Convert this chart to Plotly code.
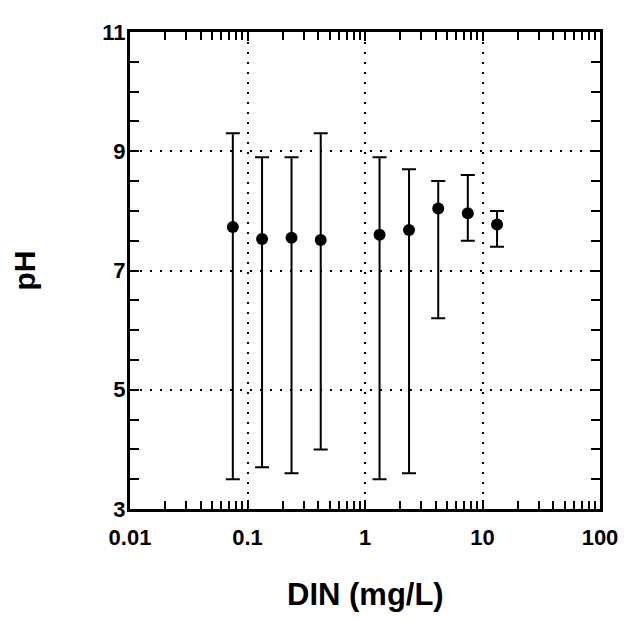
import plotly.graph_objects as go

din = [0.075, 0.133, 0.237, 0.42, 1.33, 2.37, 4.2, 7.5, 13.3]
ph_mean = [7.73, 7.53, 7.55, 7.51, 7.60, 7.68, 8.04, 7.96, 7.77]
ph_upper = [9.3, 8.9, 8.9, 9.3, 8.9, 8.7, 8.5, 8.6, 8.0]
ph_lower = [3.5, 3.7, 3.6, 4.0, 3.5, 3.6, 6.2, 7.5, 7.4]

x_ticks = [0.01, 0.1, 1, 10, 100]
x_ticktext = ["0.01", "0.1", "1", "10", "100"]
y_ticks = [3, 5, 7, 9, 11]

err_plus = [u - m for u, m in zip(ph_upper, ph_mean)]
err_minus = [m - l for m, l in zip(ph_mean, ph_lower)]

FONT = "Liberation Sans, Arial, sans-serif"

fig = go.Figure()
fig.add_trace(go.Scatter(
    x=din, y=ph_mean, mode="markers",
    marker=dict(color="black", size=12),
    error_y=dict(type="data", symmetric=False, array=err_plus, arrayminus=err_minus,
                 color="black", thickness=2, width=7),
    showlegend=False,
))

fig.update_layout(
    # page has an 8px body margin, so the figure is sized to fill the 630x621 window
    width=622, height=613,
    margin=dict(l=122, r=21, t=16, b=112),
    paper_bgcolor="white", plot_bgcolor="white",
    font=dict(family=FONT, color="black", size=22, weight="bold"),
    xaxis=dict(
        type="log", range=[-2, 2],
        tickmode="array", tickvals=x_ticks, ticktext=x_ticktext,
        ticks="inside", ticklen=9, tickwidth=2, tickcolor="black",
        showline=True, linewidth=3, linecolor="black", mirror="ticks",
        showgrid=True, gridcolor="black", gridwidth=1.5, griddash="2px,8px",
        zeroline=False,
        tickfont=dict(family=FONT, size=22, weight="bold"),
        ticklabelstandoff=7,
        minor=dict(ticks="inside", ticklen=8, tickwidth=2, tickcolor="black",
                   dtick="D1", showgrid=False),
    ),
    yaxis=dict(
        range=[3, 11],
        tickmode="array", tickvals=y_ticks,
        ticks="inside", ticklen=9, tickwidth=2, tickcolor="black",
        showline=True, linewidth=3, linecolor="black", mirror="ticks",
        showgrid=True, gridcolor="black", gridwidth=1.5, griddash="2px,8px",
        zeroline=False,
        tickfont=dict(family=FONT, size=22, weight="bold"),
        ticklabelstandoff=-3,
        minor=dict(ticks="inside", ticklen=9, tickwidth=2, tickcolor="black",
                   dtick=0.5, showgrid=False),
    ),
    annotations=[
        dict(text="pH", xref="paper", yref="paper", x=-0.2255, y=0.5,
             xanchor="center", yanchor="middle", textangle=-90, showarrow=False,
             font=dict(family=FONT, size=30, weight="bold")),
        dict(text="DIN (mg/L)", xref="paper", yref="paper", x=0.5, y=-0.179,
             xanchor="center", yanchor="middle", showarrow=False,
             font=dict(family=FONT, size=31, weight="bold")),
    ],
)

fig.write_html("out.html")
